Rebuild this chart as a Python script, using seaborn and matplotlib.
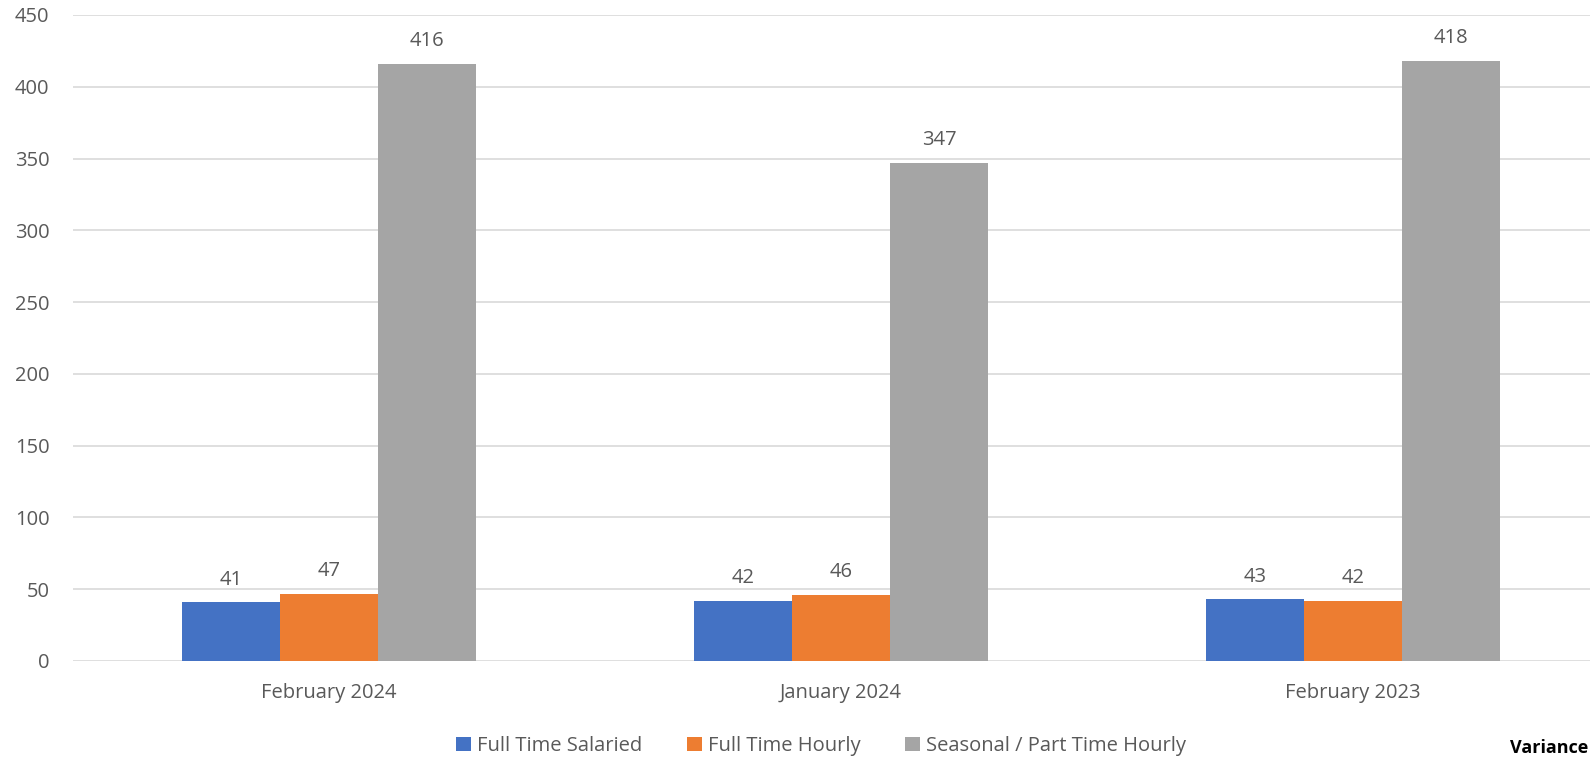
import matplotlib
matplotlib.use("Agg")
import matplotlib.pyplot as plt
import seaborn as sns
import pandas as pd

sns.set_style("white")
plt.rcParams['font.family'] = ['Open Sans', 'DejaVu Sans']

# -------------------------------
# Data
# -------------------------------
periods = ["February 2024", "January 2024", "February 2023"]
salaried = [41, 42, 43]
hourly = [47, 46, 42]
seasonal = [416, 347, 418]
series_names = ["Full Time Salaried", "Full Time Hourly", "Seasonal / Part Time Hourly"]
colors = ["#4472C4", "#ED7D31", "#A5A5A5"]
y_ticks = [0, 50, 100, 150, 200, 250, 300, 350, 400, 450]

df = pd.DataFrame({
    "period": periods * 3,
    "series": [s for s in series_names for _ in periods],
    "value": salaried + hourly + seasonal,
})

text_color = "#595959"
grid_color = "#D9D9D9"

fig = plt.figure(figsize=(15.9, 7.58), dpi=100)
ax = fig.add_axes([73 / 1590, 97 / 758, 1536 / 1590, 646 / 758])

sns.barplot(
    data=df,
    x="period",
    y="value",
    hue="series",
    hue_order=series_names,
    order=periods,
    palette=colors,
    width=0.576,
    gap=0,
    saturation=1,
    linewidth=0,
    ax=ax,
)

for container in ax.containers:
    ax.bar_label(container, padding=9, fontsize=14.5, color=text_color)

ax.set_ylim(0, 450)
ax.set_xlim(-0.5, 2.5)
ax.set_yticks(y_ticks)
ax.yaxis.grid(True, color=grid_color, linewidth=1.2)
ax.set_axisbelow(True)
for s in ax.spines.values():
    s.set_visible(False)
ax.tick_params(axis="both", length=0, labelsize=14.5, colors=text_color)
ax.tick_params(axis="y", pad=17)
ax.tick_params(axis="x", pad=16)
ax.set_xlabel("")
ax.set_ylabel("")

ax.legend(
    loc="center",
    bbox_to_anchor=(821 / 1590, 12 / 758),
    bbox_transform=fig.transFigure,
    ncol=3,
    frameon=False,
    fontsize=14.5,
    labelcolor=text_color,
    handlelength=0.75,
    handleheight=0.75,
    handletextpad=0.3,
    columnspacing=2.2,
)

fig.text(1588 / 1590, 1 / 758, "Variance", fontsize=13, fontweight="bold",
         color="black", ha="right", va="bottom")

fig.savefig("out.png", dpi=100)
